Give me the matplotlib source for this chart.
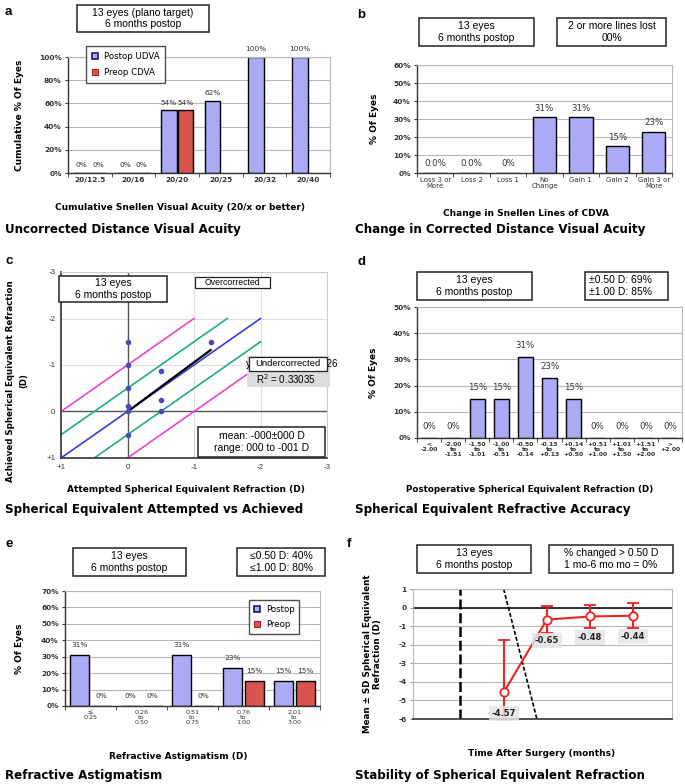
import matplotlib
matplotlib.use('Agg')
import matplotlib.pyplot as plt
import numpy as np
from matplotlib.patches import Rectangle
from matplotlib.lines import Line2D

# ---------------- data ----------------
# a
ucva_cats = ['20/12.5', '20/16', '20/20', '20/25', '20/32', '20/40']
postop_udva = [0, 0, 54, 62, 100, 100]
preop_cdva = [0, 0, 54, np.nan, np.nan, np.nan]
# b
cdva_cats = ['Loss 3 or\nMore', 'Loss 2', 'Loss 1', 'No\nChange', 'Gain 1', 'Gain 2', 'Gain 3 or\nMore']
cdva_vals = [0, 0, 0, 31, 31, 15, 23]
cdva_lbls = ['0.0%', '0.0%', '0%', '31%', '31%', '15%', '23%']
# c
attempted = [0, 0, 0, 0, 0, 0, -0.5, -0.5, -0.5, -1.25]
achieved = [-1.5, -1.0, -0.5, -0.125, 0.0, 0.5, -0.875, -0.25, 0.0, -1.5]
band_offsets = [-1.0, -0.5, 0.0, 0.5, 1.0]
band_colors = ['#ee44cc', '#22aa88', '#3a3adc', '#22aa88', '#ee44cc']
trend_slope = 1.06
trend_intercept = 0.0026
trend_r2 = 0.33035
c_ticks = [1, 0, -1, -2, -3]
c_ticklabels = ['+1', '0', '-1', '-2', '-3']
# d
se_cats = ['<\n-2.00', '-2.00\nto\n-1.51', '-1.50\nto\n-1.01', '-1.00\nto\n-0.51', '-0.50\nto\n-0.14',
           '-0.13\nto\n+0.13', '+0.14\nto\n+0.50', '+0.51\nto\n+1.00', '+1.01\nto\n+1.50',
           '+1.51\nto\n+2.00', '>\n+2.00']
se_vals = [0, 0, 15, 15, 31, 23, 15, 0, 0, 0, 0]
# e
cyl_cats = ['\u2264\n0.25', '0.26\nto\n0.50', '0.51\nto\n0.75', '0.76\nto\n1.00', '2.01\nto\n3.00']
cyl_postop = [31, 0, 31, 23, 15]
cyl_preop = [0, 0, 0, 15, 15]
# f
time_pos = [1, 2, 3, 4]
se_mean = [-4.57, -0.65, -0.48, -0.44]
se_sd = [2.84, 0.74, 0.62, 0.68]
surgery_x = 0
diag_x = [1.0, 1.77]
diag_y = [1.0, -6.0]

# ---------------- style ----------------
W, H = 685, 784
fig = plt.figure(figsize=(6.85, 7.84), dpi=100)
fig.patch.set_facecolor('white')

BAR = '#aaaaf6'
RED = '#d9534f'
GRID = '#b8b8b8'
DARK = '#222222'
TF = 'DejaVu Sans'
BF = 'Liberation Sans'
TS = 5.3
LS = 6.5


def axes_px(l, t, r, b):
    return fig.add_axes([l / W, 1 - b / H, (r - l) / W, (b - t) / H])


def fx(px):
    return px / W


def fy(py):
    return 1 - py / H


def box(x0, y0, x1, y1, text, size=7.5, ha='center', fc='white', ec=DARK, lw=1.1, tx=None, z=5):
    fig.add_artist(Rectangle((fx(x0), fy(y1)), fx(x1) - fx(x0), fy(y0) - fy(y1),
                             transform=fig.transFigure, facecolor=fc, edgecolor=ec, lw=lw, zorder=z))
    xt = (x0 + x1) / 2 if ha == 'center' else tx
    fig.text(fx(xt), fy((y0 + y1) / 2), text, ha=ha, va='center', fontsize=size, family=BF,
             linespacing=1.15, zorder=z + 1)


def title(x, y, s):
    fig.text(fx(x), fy(y), s, ha='left', va='center', fontsize=8.6, family=TF, weight='bold')


def letter(x, y, s):
    fig.text(fx(x), fy(y), s, ha='left', va='center', fontsize=9.5, family=BF, weight='bold')


def style_bar(ax, n, ymax, ystep):
    ax.set_xlim(-0.5, n - 0.5)
    ax.set_ylim(0, ymax)
    yt = np.arange(0, ymax + 1, ystep)
    ax.set_yticks(yt)
    ax.set_yticklabels([f'{int(v)}%' for v in yt], family=TF, fontsize=TS, weight='bold', color='#333')
    ax.yaxis.grid(True, color=GRID, lw=0.8)
    ax.set_axisbelow(True)
    for s in ['top', 'right']:
        ax.spines[s].set_color(GRID)
    for s in ['left', 'bottom']:
        ax.spines[s].set_color('#333')
        ax.spines[s].set_linewidth(1.0)
    ax.tick_params(axis='y', length=2.5, pad=2, color='#333')
    ax.set_xticks(np.arange(n))
    ax.set_xticks(np.arange(n + 1) - 0.5, minor=True)
    ax.tick_params(axis='x', which='major', length=0, pad=3)
    ax.tick_params(axis='x', which='minor', length=3, color='#333')


def make_legend(ax, labels, x0, y0, spacing, pad):
    hl = [Line2D([], [], marker='s', ls='none', markerfacecolor=BAR, markeredgecolor='#1a1a6a',
                 markersize=4, markeredgewidth=1.2),
          Line2D([], [], marker='s', ls='none', markerfacecolor=RED, markeredgecolor='#aa2222',
                 markersize=4, markeredgewidth=0.8)]
    leg = ax.legend(hl, labels, loc='upper left', bbox_to_anchor=(fx(x0), fy(y0)),
                    bbox_transform=fig.transFigure, frameon=True, fancybox=False,
                    prop={'family': TF, 'size': 6.2}, handlelength=0.8, handletextpad=0.6,
                    labelspacing=spacing, borderpad=pad, borderaxespad=0)
    leg.get_frame().set_edgecolor(DARK)
    leg.get_frame().set_linewidth(1.0)
    leg.set_zorder(10)
    return leg


# ---------------- panel a ----------------
ax = axes_px(68, 57, 330, 173)
n = len(ucva_cats)
x = np.arange(n)
bw, off = 0.36, 0.19
ax.bar(x - off, postop_udva, bw, color=BAR, edgecolor='black', lw=1.0)
ax.bar(x + off, preop_cdva, bw, color=RED, edgecolor='black', lw=1.0)
style_bar(ax, n, 100, 20)
ax.set_xticklabels(ucva_cats, family=TF, fontsize=TS, weight='bold', color='#333')
for xi, v in zip(x, postop_udva):
    ax.text(xi - off, v + 4, f'{v}%', ha='center', va='bottom', fontsize=5.3, family=TF, color='#333', clip_on=False)
for xi, v in zip(x, preop_cdva):
    if not np.isnan(v):
        ax.text(xi + off, v + 4, f'{int(v)}%', ha='center', va='bottom', fontsize=5.3, family=TF, color='#333', clip_on=False)
ax.set_xlabel('Cumulative Snellen Visual Acuity (20/x or better)', family=TF, fontsize=LS, weight='bold')
ax.xaxis.set_label_coords((180 - 68) / 262, -(203 - 173) / 116)
ax.set_ylabel('Cumulative % Of Eyes', family=TF, fontsize=LS, weight='bold')
ax.yaxis.set_label_coords(-(68 - 24) / 262, 0.5)
make_legend(ax, ['Postop UDVA', 'Preop CDVA'], 86, 46, 0.9, 0.65)
box(77, 5, 209, 32, '13 eyes (plano target)\n6 months postop')
letter(5, 12, 'a')
title(5, 230, 'Uncorrected Distance Visual Acuity')

# ---------------- panel b ----------------
ax = axes_px(417, 65, 672, 173)
n = len(cdva_cats)
x = np.arange(n)
ax.bar(x, cdva_vals, 0.64, color=BAR, edgecolor='black', lw=1.0)
style_bar(ax, n, 60, 10)
ax.set_xticklabels(cdva_cats, family=TF, fontsize=5.0, color='#333', linespacing=1.0)
for xi, v, s in zip(x, cdva_vals, cdva_lbls):
    ax.text(xi, v + 2.5, s, ha='center', va='bottom', fontsize=6.2, family=TF, color='#333')
ax.set_xlabel('Change in Snellen Lines of CDVA', family=TF, fontsize=LS, weight='bold')
ax.xaxis.set_label_coords((526 - 417) / 255, -(209 - 173) / 108)
ax.set_ylabel('% Of Eyes', family=TF, fontsize=LS, weight='bold')
ax.yaxis.set_label_coords(-(417 - 379) / 255, 0.5)
box(419, 18, 534, 46, '13 eyes\n6 months postop')
box(557, 18, 666, 46, '2 or more lines lost\n00%')
letter(357, 15, 'b')
title(355, 230, 'Change in Corrected Distance Visual Acuity')

# ---------------- panel c ----------------
ax = axes_px(61, 272, 327, 458)
ax.set_xlim(1, -3)
ax.set_ylim(1, -3)
ax.set_xticks(c_ticks)
ax.set_xticklabels(c_ticklabels, family=BF, fontsize=5.8, color='#333')
ax.set_yticks(c_ticks)
ax.set_yticklabels(c_ticklabels, family=BF, fontsize=5.8, color='#333')
ax.tick_params(length=0, pad=4)
ax.grid(True, color='#dddddd', lw=0.8)
ax.set_axisbelow(True)
for s in ['top', 'right']:
    ax.spines[s].set_color('#cccccc')
for s in ['left', 'bottom']:
    ax.spines[s].set_color('#333')
    ax.spines[s].set_linewidth(1.2)
ax.axhline(0, color='#555', lw=1.0, zorder=1)
ax.axvline(0, color='#555', lw=1.0, zorder=1)
for o, c in zip(band_offsets, band_colors):
    xs = min(1, 1 - o)
    xe = max(-2, -2 - o)
    ax.plot([xs, xe], [xs + o, xe + o], color=c, lw=1.2, zorder=2)
tx = np.array([0, min(attempted)])
ax.plot(tx, trend_slope * tx + trend_intercept, color='black', lw=1.6, zorder=3)
ax.scatter(attempted, achieved, s=9, color='#4b4bb8', zorder=4)
ax.set_xlabel('Attempted Spherical Equivalent Refraction (D)', family=TF, fontsize=LS, weight='bold')
ax.xaxis.set_label_coords((186 - 61) / 266, -(485 - 458) / 186)
ax.set_ylabel('Achieved Spherical Equivalent Refraction\n(D)', family=TF, fontsize=6.2, weight='bold', linespacing=1.5)
ax.yaxis.set_label_coords(-(61 - 28) / 266, (458 - 381) / 186)
# trendline label
fig.add_artist(Rectangle((fx(247), fy(387)), fx(330) - fx(247), fy(356) - fy(387), transform=fig.transFigure,
                         facecolor='#dcdcdc', edgecolor='none', zorder=5))
fig.text(fx(337), fy(364), f'y = {trend_slope:.4f}x + {trend_intercept:.4f}', ha='right', va='center',
         fontsize=7, family=BF, zorder=6)
fig.text(fx(286), fy(379), f'R$^2$ = {trend_r2:.5f}', ha='center', va='center', fontsize=7, family=BF, zorder=6)
box(249, 357, 327, 371, 'Undercorrected', size=6.8, z=7, lw=0.9)
box(195, 277, 270, 288, 'Overcorrected', size=6.3, lw=0.9)
box(59, 276, 167, 302, '13 eyes\n6 months postop')
box(198, 427, 325, 457, 'mean: -000\u00b1000 D\nrange: 000 to -001 D')
letter(5, 261, 'c')
title(5, 510, 'Spherical Equivalent Attempted vs Achieved')

# ---------------- panel d ----------------
ax = axes_px(417, 307, 682, 438)
n = len(se_cats)
x = np.arange(n)
ax.bar(x, se_vals, 0.62, color=BAR, edgecolor='black', lw=1.0)
style_bar(ax, n, 50, 10)
ax.set_xticklabels(se_cats, family=TF, fontsize=4.4, weight='bold', color='#333', linespacing=0.95)
for xi, v in zip(x, se_vals):
    ax.text(xi, v + 2.5, f'{v}%', ha='center', va='bottom', fontsize=6.2, family=TF, color='#333')
ax.set_xlabel('Postoperative Spherical Equivalent Refraction (D)', family=TF, fontsize=6.3, weight='bold')
ax.xaxis.set_label_coords((530 - 417) / 265, -(485 - 438) / 131)
ax.set_ylabel('% Of Eyes', family=TF, fontsize=LS, weight='bold')
ax.yaxis.set_label_coords(-(417 - 378) / 265, 0.5)
box(417, 272, 532, 300, '13 eyes\n6 months postop')
box(585, 272, 668, 300, '\u00b10.50 D: 69%\n\u00b11.00 D: 85%', ha='left', tx=589)
letter(357, 262, 'd')
title(355, 510, 'Spherical Equivalent Refractive Accuracy')

# ---------------- panel e ----------------
ax = axes_px(65, 591, 320, 706)
n = len(cyl_cats)
x = np.arange(n)
bw, off = 0.37, 0.22
ax.bar(x - off, cyl_postop, bw, color=BAR, edgecolor='black', lw=1.0)
ax.bar(x + off, cyl_preop, bw, color=RED, edgecolor='black', lw=1.0)
style_bar(ax, n, 70, 10)
ax.set_xticklabels(cyl_cats, family=TF, fontsize=4.6, color='#333', linespacing=0.95)
for xi, v in zip(x, cyl_postop):
    ax.text(xi - off, v + 4.5, f'{v}%', ha='center', va='bottom', fontsize=5.3, family=TF, color='#333')
for xi, v in zip(x, cyl_preop):
    ax.text(xi + off, v + 4.5, f'{v}%', ha='center', va='bottom', fontsize=5.3, family=TF, color='#333')
ax.set_xlabel('Refractive Astigmatism (D)', family=TF, fontsize=LS, weight='bold')
ax.xaxis.set_label_coords((178 - 65) / 255, -(752 - 706) / 115)
ax.set_ylabel('% Of Eyes', family=TF, fontsize=LS, weight='bold')
ax.yaxis.set_label_coords(-(65 - 24) / 255, 0.5)
make_legend(ax, ['Postop', 'Preop'], 249, 600, 0.75, 0.55)
box(73, 548, 186, 576, '13 eyes\n6 months postop')
box(237, 548, 325, 576, '\u22640.50 D: 40%\n\u22641.00 D: 80%')
letter(5, 544, 'e')
title(5, 775, 'Refractive Astigmatism')

# ---------------- panel f ----------------
ax = axes_px(413, 589, 672, 719)
ax.set_xlim(-1.1, 4.9)
ax.set_ylim(-6, 1)
ax.set_yticks(np.arange(-6, 2))
ax.set_yticklabels([str(v) for v in range(-6, 2)], family=TF, fontsize=TS, weight='bold', color='#333')
ax.set_xticks([])
ax.yaxis.grid(True, color=GRID, lw=0.8)
ax.set_axisbelow(True)
for s in ['top', 'right', 'left']:
    ax.spines[s].set_color(GRID)
ax.spines['bottom'].set_color('#333')
ax.spines['bottom'].set_linewidth(1.2)
ax.tick_params(axis='y', length=2.5, pad=2, color='#999')
ax.axhline(0, color='#222', lw=1.3, zorder=1)
ax.axvline(surgery_x, color='black', lw=1.8, ls=(0, (4, 1.5)), zorder=2)
ax.plot(diag_x, diag_y, color='black', lw=1.2, ls=(0, (2.5, 1.2)), zorder=2)
ax.errorbar(time_pos, se_mean, yerr=se_sd, color='#ee2222', lw=1.5, capsize=4, capthick=1.5,
            marker='o', markersize=6, markerfacecolor='white', markeredgecolor='#ee2222',
            markeredgewidth=1.3, zorder=4, clip_on=True)
for xi, v in zip(time_pos, se_mean):
    ax.annotate(f'{v:.2f}', (xi, v), xytext=(0, -12), textcoords='offset points', ha='center', va='top',
                fontsize=6, family=TF, weight='bold', color='#222', zorder=6,
                bbox=dict(boxstyle='square,pad=0.35', fc='#e4e4e4', ec='none', alpha=0.85))
ax.set_xlabel('Time After Surgery (months)', family=TF, fontsize=LS, weight='bold')
ax.xaxis.set_label_coords((542 - 413) / 259, -(749 - 719) / 130)
ax.set_ylabel('Mean \u00b1 SD Spherical Equivalent\nRefraction (D)', family=TF, fontsize=6.3, weight='bold', linespacing=1.2)
ax.yaxis.set_label_coords(-(413 - 382) / 259, 0.5)
box(417, 545, 531, 573, '13 eyes\n6 months postop')
box(549, 545, 673, 573, '% changed > 0.50 D\n1 mo-6 mo mo = 0%')
letter(347, 544, 'f')
title(355, 775, 'Stability of Spherical Equivalent Refraction')

fig.savefig('out.png', dpi=100, facecolor='white')
